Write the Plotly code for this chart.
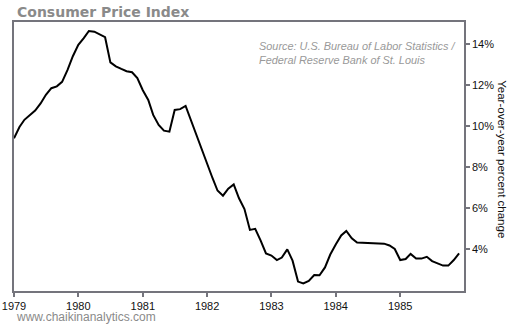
import pandas as pd
import plotly.graph_objects as go

# Monthly CPI year-over-year change, Jan 1979 - Dec 1985
months = pd.date_range("1979-01-01", periods=84, freq="MS")
cpi_yoy = [
    9.40, 9.95, 10.30, 10.55, 10.75, 11.10, 11.52, 11.84, 11.93, 12.15, 12.73, 13.40,
    13.96, 14.28, 14.63, 14.60, 14.45, 14.33, 13.10, 12.91, 12.78, 12.67, 12.62, 12.34,
    11.74, 11.27, 10.54, 10.05, 9.77, 9.72, 10.78, 10.82, 10.98, 10.27, 9.56, 8.86,
    8.16, 7.45, 6.85, 6.60, 6.94, 7.15, 6.47, 5.95, 4.93, 4.98, 4.41, 3.78,
    3.68, 3.46, 3.58, 3.98, 3.43, 2.41, 2.32, 2.44, 2.73, 2.72, 3.10, 3.73,
    4.22, 4.66, 4.88, 4.52, 4.31, 4.30, 4.29, 4.28, 4.27, 4.26, 4.17, 4.00,
    3.46, 3.51, 3.76, 3.53, 3.53, 3.62, 3.41, 3.29, 3.19, 3.19, 3.46, 3.79,
]
year_ticks = ["1979", "1980", "1981", "1982", "1983", "1984", "1985"]
pct_ticks = [4, 6, 8, 10, 12, 14]

fig = go.Figure()
fig.add_trace(go.Scatter(
    x=months, y=cpi_yoy, mode="lines",
    line=dict(color="black", width=2), hoverinfo="skip", showlegend=False,
))

axis_col = "#74747c"
fig.update_layout(
    width=510, height=325,
    margin=dict(l=14, r=46, t=22, b=34, pad=0, autoexpand=False),
    paper_bgcolor="white", plot_bgcolor="white",
    font=dict(family="Liberation Sans, Arial, sans-serif", size=11, color="#111"),
    xaxis=dict(
        type="date", automargin=False,
        range=["1979-01-01", "1985-12-29"],
        tickmode="array",
        tickvals=[f"{y}-01-01" for y in year_ticks],
        ticktext=year_ticks,
        ticks="outside", ticklen=4, tickwidth=1.5, tickcolor=axis_col,
        showline=True, linecolor=axis_col, linewidth=1.5, mirror=True,
        showgrid=False, zeroline=False,
        tickfont=dict(size=11, color="#111"),
    ),
    yaxis=dict(
        side="right", automargin=False,
        range=[1.95, 15.07],
        tickmode="array",
        tickvals=pct_ticks,
        ticktext=[f"{v}%" for v in pct_ticks],
        ticks="outside", ticklen=4, tickwidth=1.5, tickcolor=axis_col,
        showline=True, linecolor=axis_col, linewidth=1.5, mirror=True,
        showgrid=False, zeroline=False,
        tickfont=dict(size=11, color="#111"),
    ),
)

fig.add_annotation(
    text="<b>Consumer Price Index</b>", xref="paper", yref="paper",
    x=0.0, xshift=1, y=1.0, xanchor="left", yanchor="bottom", showarrow=False,
    font=dict(family="DejaVu Sans, Verdana, sans-serif", size=14, color="#8a8a8a"),
)
fig.add_annotation(
    text="<i>Source: U.S. Bureau of Labor Statistics /<br>Federal Reserve Bank of St. Louis</i>",
    xref="paper", yref="paper", x=0.546, xshift=-3, y=0.94, xanchor="left", yanchor="top",
    align="left", showarrow=False,
    font=dict(family="Liberation Sans, Arial, sans-serif", size=10.9, color="#999999"),
)
fig.add_annotation(
    text="Year-over-year percent change", xref="paper", yref="paper",
    x=1.0, xshift=38, y=0.49, xanchor="center", yanchor="middle",
    textangle=90, showarrow=False,
    font=dict(family="Liberation Sans, Arial, sans-serif", size=11.5, color="#111"),
)
fig.add_annotation(
    text="www.chaikinanalytics.com", xref="paper", yref="paper",
    x=0.0, y=0.0, yshift=-35, xanchor="left", yanchor="bottom",
    showarrow=False,
    font=dict(family="Liberation Sans, Arial, sans-serif", size=12, color="#8a8a8a"),
)

fig.write_html("out.html")
